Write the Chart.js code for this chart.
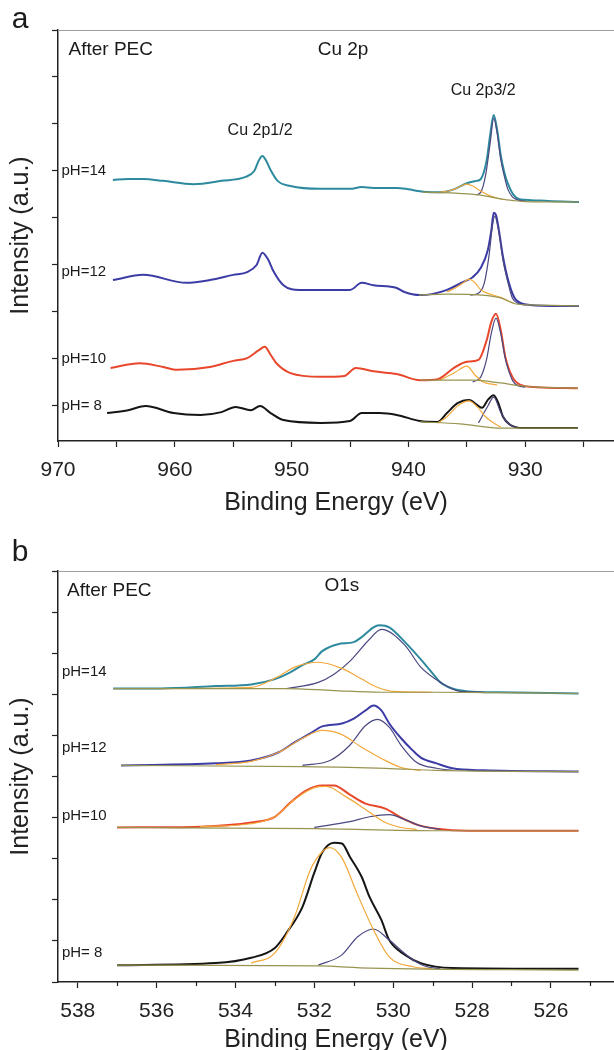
<!DOCTYPE html>
<html>
<head>
<meta charset="utf-8">
<script src="https://cdn.jsdelivr.net/npm/chart.js@4.4.0/dist/chart.umd.min.js"></script>
<style>
  html, body { margin: 0; padding: 0; background: #fff; overflow: hidden; }
  #wrap { position: relative; width: 614px; height: 1050px; overflow: hidden; }
  .panel { position: absolute; left: 0; width: 614px; }
  #cuBox { top: 0; height: 525px; }
  #oBox { top: 525px; height: 540px; }
</style>
</head>
<body>
<div id="wrap">
  <div class="panel" id="cuBox"><canvas id="cuChart"></canvas></div>
  <div class="panel" id="oBox"><canvas id="oChart"></canvas></div>
</div>
<script>
// ---- Cu 2p spectra, [binding energy (eV), offset intensity (a.u.)] ----
const cu14Spectrum = [[965.3,4.81],[964,4.83],[962.7,4.83],[961,4.79],[958.4,4.72],[956,4.79],[954,4.87],[953.2,5.0],[952.8,5.23],[952.5,5.32],[952.2,5.23],[951.8,5.02],[951.2,4.79],[950.1,4.68],[947.5,4.62],[945,4.62],[944,4.66],[943,4.64],[941,4.64],[940,4.61],[939,4.57],[938,4.55],[937.3,4.55],[936,4.62],[935,4.74],[934.2,4.79],[933.8,4.83],[933.3,5.23],[933.0,5.77],[932.7,6.19],[932.4,5.87],[932.1,5.34],[931.8,4.98],[931.5,4.74],[931.0,4.49],[930.5,4.40],[929.5,4.38],[928,4.36],[925.4,4.34]];
const cu14Sat = [[937.3,4.55],[936.5,4.58],[936,4.62],[935.5,4.68],[935,4.72],[934.5,4.68],[934,4.60],[933.5,4.53],[933,4.47],[932.5,4.43],[932,4.40]];
const cu14Main = [[934.2,4.49],[933.8,4.55],[933.4,4.9],[933.0,5.6],[932.7,6.12],[932.4,5.8],[932.1,5.25],[931.8,4.9],[931.5,4.62],[931.1,4.45],[930.6,4.38],[930,4.36]];
const cu14Base = [[938.8,4.55],[936,4.53],[934,4.49],[933,4.45],[932,4.40],[931,4.37],[930,4.35],[925.4,4.34]];

const cu12Spectrum = [[965.3,2.68],[962.7,2.79],[959,2.62],[957,2.68],[955,2.79],[953.8,2.85],[953.0,3.0],[952.5,3.26],[952.0,3.11],[951.6,2.89],[950.7,2.57],[949.3,2.47],[945,2.47],[944,2.62],[943,2.57],[941,2.51],[940.4,2.43],[939,2.36],[938,2.38],[936.7,2.47],[935.3,2.64],[934.5,2.74],[933.8,2.94],[933.2,3.32],[932.9,3.74],[932.7,4.11],[932.5,4.06],[932.3,3.81],[931.9,3.17],[931.4,2.62],[930.8,2.26],[929.6,2.15],[927,2.13],[925.4,2.13]];
const cu12Sat = [[936.7,2.43],[936,2.51],[935.3,2.62],[934.8,2.70],[934.3,2.62],[933.8,2.47],[933,2.38],[932.1,2.31],[931.5,2.24],[931,2.19]];
const cu12Main = [[934.7,2.36],[934,2.40],[933.5,2.62],[933.1,3.2],[932.8,3.85],[932.6,4.04],[932.3,3.75],[931.9,3.1],[931.4,2.55],[931.1,2.30],[930.6,2.18],[930,2.15]];
const cu12Base = [[939.1,2.36],[936.7,2.38],[933.8,2.36],[932.1,2.30],[930.8,2.17],[929.6,2.15],[925.4,2.13]];

const cu10Spectrum = [[965.5,0.81],[963,0.91],[961,0.83],[959.8,0.77],[957,0.83],[955,0.96],[953.8,1.02],[952.8,1.19],[952.3,1.26],[951.8,1.09],[951.3,0.91],[950.1,0.70],[947.5,0.62],[945.5,0.64],[944.5,0.81],[943,0.74],[941,0.68],[939,0.55],[937.5,0.57],[936.1,0.81],[935,0.94],[934,0.98],[933.3,1.40],[932.9,1.79],[932.5,1.96],[932.1,1.62],[931.7,1.04],[931.1,0.62],[930.4,0.45],[929,0.40],[925.5,0.38]];
const cu10Sat = [[937.3,0.55],[936.1,0.70],[935,0.85],[934.3,0.66],[933.6,0.51],[933,0.47],[932.4,0.45]];
const cu10Main = [[934.5,0.51],[933.8,0.62],[933.3,1.0],[932.9,1.55],[932.5,1.87],[932.1,1.55],[931.7,1.0],[931.1,0.55],[930.6,0.43],[930,0.40]];
const cu10Base = [[939,0.55],[936,0.55],[934.5,0.55],[932.1,0.49],[930.4,0.43],[929,0.40],[925.5,0.38]];

const cu8Spectrum = [[965.8,-0.15],[964,-0.09],[962.5,0],[960.1,-0.15],[957.8,-0.19],[956,-0.13],[954.8,-0.02],[953.5,-0.09],[952.7,0],[951.8,-0.15],[950.7,-0.30],[947.5,-0.36],[945,-0.32],[944,-0.15],[942.5,-0.15],[941,-0.19],[939,-0.32],[937.5,-0.34],[936.7,-0.15],[935.8,0.06],[934.8,0.13],[934.1,0.02],[933.7,-0.04],[933.2,0.13],[932.7,0.23],[932.3,0.06],[931.9,-0.23],[931.3,-0.40],[930.2,-0.47],[925.5,-0.47]];
const cu8Sat = [[937.5,-0.36],[936.7,-0.23],[935.8,0.0],[934.8,0.11],[934.1,-0.02],[933.4,-0.23],[932.7,-0.36],[932.1,-0.45]];
const cu8Main = [[934,-0.36],[933.2,0.0],[932.7,0.19],[932.1,-0.13],[931.5,-0.36],[930.8,-0.47]];
const cu8Base = [[939,-0.34],[935.6,-0.38],[932,-0.47],[925.5,-0.47]];

// ---- O 1s spectra ----
const o14Spectrum = [[537.1,7.14],[535.9,7.14],[534.5,7.20],[533.6,7.24],[533.0,7.37],[532.6,7.54],[532.3,7.71],[532.0,7.85],[531.8,8.05],[531.4,8.22],[531.0,8.27],[530.8,8.39],[530.5,8.63],[530.35,8.68],[530.1,8.63],[529.7,8.27],[529.3,7.85],[529.0,7.51],[528.8,7.29],[528.5,7.14],[528.1,7.07],[527.3,7.05],[525.3,7.02]];
const o14Hydroxyl = [[535.9,7.14],[533.6,7.17],[532.9,7.44],[532.5,7.66],[531.9,7.78],[531.3,7.63],[530.8,7.37],[530.4,7.17],[530,7.07],[529,7.05]];
const o14Lattice = [[532.7,7.14],[531.9,7.29],[531.5,7.49],[531.1,7.80],[530.6,8.34],[530.3,8.58],[529.7,8.19],[529.3,7.66],[528.8,7.29],[528.3,7.07],[527.7,7.05]];
const o14Base = [[537.1,7.14],[532.7,7.14],[531.5,7.09],[530.3,7.05],[529,7.05],[525.3,7.02]];

const o12Spectrum = [[536.9,5.27],[534.5,5.32],[533.6,5.39],[532.9,5.59],[532.5,5.83],[532.1,6.05],[531.8,6.22],[531.3,6.29],[531.0,6.41],[530.7,6.61],[530.5,6.73],[530.3,6.61],[530.1,6.29],[529.8,5.93],[529.5,5.63],[529.3,5.46],[528.9,5.32],[528.5,5.20],[527.7,5.15],[525.3,5.12]];
const o12Hydroxyl = [[534.5,5.29],[533.6,5.37],[532.9,5.59],[532.3,5.93],[531.8,6.12],[531.3,6.02],[530.8,5.71],[530.3,5.44],[529.8,5.22],[529.3,5.15]];
const o12Lattice = [[532.3,5.27],[531.6,5.39],[531.1,5.76],[530.7,6.24],[530.4,6.39],[530.1,6.20],[529.8,5.76],[529.4,5.34],[528.9,5.20],[528.5,5.15]];
const o12Base = [[536.9,5.27],[532.3,5.24],[530.2,5.20],[528.9,5.15],[525.3,5.12]];

const o10Spectrum = [[537.0,3.76],[534.9,3.78],[533.6,3.88],[533.0,4.02],[532.6,4.37],[532.2,4.66],[531.8,4.78],[531.5,4.78],[531.1,4.56],[530.7,4.34],[530.2,4.22],[529.8,4.00],[529.4,3.83],[528.9,3.73],[528.1,3.68],[525.3,3.68]];
const o10Hydroxyl = [[534.9,3.78],[533.6,3.85],[533.0,4.02],[532.5,4.44],[532.0,4.73],[531.7,4.76],[531.2,4.51],[530.7,4.20],[530.2,3.88],[529.8,3.76],[529.4,3.71]];
const o10Lattice = [[532.0,3.76],[531.1,3.90],[530.6,4.02],[530.1,4.07],[529.7,3.95],[529.3,3.80],[528.8,3.71]];
const o10Base = [[537,3.76],[532,3.73],[528.9,3.68],[525.3,3.68]];

const o8Spectrum = [[537.0,0.41],[534.5,0.46],[533.6,0.59],[533.0,0.83],[532.7,1.20],[532.3,1.83],[532.0,2.66],[531.8,3.15],[531.5,3.39],[531.3,3.37],[531.1,3.05],[530.8,2.56],[530.6,2.07],[530.3,1.51],[530.1,1.02],[529.7,0.66],[529.3,0.46],[528.5,0.34],[525.3,0.32]];
const o8Hydroxyl = [[533.6,0.46],[533.0,0.71],[532.5,1.59],[532.1,2.73],[531.8,3.17],[531.6,3.27],[531.3,3.02],[530.9,2.12],[530.5,1.27],[530.1,0.61],[529.5,0.37],[529.0,0.32]];
const o8Lattice = [[531.9,0.41],[531.3,0.66],[530.9,1.10],[530.5,1.29],[530.1,1.02],[529.6,0.61],[529.2,0.39],[528.8,0.32]];
const o8Base = [[537,0.41],[531.9,0.39],[530.6,0.34],[525.3,0.29]];

const phLabels = ['pH=14', 'pH=12', 'pH=10', 'pH= 8'];
const phColors = ['#2d8a9e', '#3c3ca6', '#e8472c', '#151515'];
const cuLabelY = [5, 2.85, 1, 0];
const oLabelY = [7.54, 5.7, 4.05, 0.71];

const FONT = "'Liberation Sans', Arial, sans-serif";
Chart.defaults.font.family = FONT;
Chart.defaults.color = '#222';

const toXY = arr => arr.map(p => ({ x: p[0], y: p[1] }));

function buildSets(groups) {
    const sets = [];
    groups.forEach((g, i) => {
        sets.push({ data: toXY(g[0]), borderColor: phColors[i], borderWidth: 2, order: 2 });
        sets.push({ data: toXY(g[3]), borderColor: '#98944f', borderWidth: 1.2, order: 1 });
        sets.push({ data: toXY(g[1]), borderColor: '#f2a83a', borderWidth: 1.2, order: 1 });
        sets.push({ data: toXY(g[2]), borderColor: '#4a4880', borderWidth: 1.2, order: 1 });
    });
    sets.forEach(s => {
        s.pointRadius = 0;
        s.fill = false;
        s.cubicInterpolationMode = 'monotone';
    });
    return sets;
}

// ticks at every multiple of step inside the scale range
function stepTicks(step) {
    return s => {
        const out = [];
        for (let k = Math.ceil(s.min / step - 1e-9); k * step <= s.max + 1e-9; k++) out.push({ value: k * step });
        s.ticks = out;
    };
}

// panel texts, top frame line, short minor ticks and the panel letter
const panelText = {
    id: 'panelText',
    afterDraw(chart, args, opts) {
        const { ctx, chartArea, scales } = chart;
        ctx.save();
        ctx.strokeStyle = '#a0a0a0';
        ctx.lineWidth = 1;
        ctx.beginPath();
        ctx.moveTo(chartArea.left, chartArea.top + 0.5);
        ctx.lineTo(chart.width, chartArea.top + 0.5);
        ctx.stroke();
        if (opts.minorEvery) {
            ctx.strokeStyle = '#222';
            ctx.lineWidth = 1.2;
            scales.x.ticks.forEach(t => {
                if (Math.round(t.value) % opts.minorEvery === 0) return;
                const px = Math.round(scales.x.getPixelForValue(t.value)) + 0.5;
                ctx.beginPath();
                ctx.moveTo(px, chartArea.bottom);
                ctx.lineTo(px, chartArea.bottom + 4);
                ctx.stroke();
            });
        }
        ctx.fillStyle = '#1a1a1a';
        ctx.textBaseline = 'middle';
        (opts.items || []).forEach(t => {
            ctx.font = t.size + 'px ' + FONT;
            ctx.textAlign = t.align || 'left';
            ctx.fillText(t.text, scales.x.getPixelForValue(t.x), scales.y.getPixelForValue(t.y));
        });
        ctx.font = opts.letterSize + 'px ' + FONT;
        ctx.textAlign = 'center';
        ctx.fillText(opts.letter, opts.letterX, opts.letterY);
        ctx.restore();
    }
};

function makeOptions(cfg) {
    const minor = cfg.text.minorEvery;
    return {
        responsive: true,
        maintainAspectRatio: false,
        animation: false,
        layout: { padding: { top: cfg.top, left: 0, right: 0, bottom: 0 } },
        plugins: {
            legend: { display: false },
            tooltip: { enabled: false },
            panelText: cfg.text
        },
        scales: {
            x: {
                type: 'linear',
                reverse: true,
                min: cfg.xMin,
                max: cfg.xMax,
                afterBuildTicks: stepTicks(cfg.xStep),
                afterFit: s => { s.height = cfg.xHeight; },
                ticks: {
                    autoSkip: false,
                    maxRotation: 0,
                    padding: 11,
                    color: '#222',
                    font: { size: 21 },
                    callback: v => (Math.round(v) % cfg.xLabelEvery === 0 ? v : '')
                },
                grid: {
                    drawOnChartArea: false, drawTicks: true, tickLength: 6, tickWidth: 1.2,
                    tickColor: c => (minor && c.tick && Math.round(c.tick.value) % minor !== 0 ? 'rgba(0,0,0,0)' : '#222')
                },
                border: { color: '#222', width: 1.5 },
                title: { display: true, text: 'Binding Energy (eV)', font: { size: 25 }, color: '#222', padding: { top: 0, bottom: cfg.titlePad } }
            },
            y: {
                min: cfg.yMin,
                max: cfg.yMax,
                afterBuildTicks: stepTicks(1),
                afterFit: s => { s.width = 58; },
                ticks: { display: false },
                grid: { drawOnChartArea: false, drawTicks: true, tickLength: 6, tickColor: '#222', tickWidth: 1.2 },
                border: { color: '#222', width: 1.5 },
                title: { display: true, text: 'Intensity (a.u.)', font: { size: 25 }, color: '#222', padding: { top: 6, bottom: 0 } }
            }
        }
    };
}

// Cu 2p panel
const cuText = [
    { text: 'After PEC', x: 969.1, y: 7.57, size: 19 },
    { text: 'Cu 2p', x: 945.6, y: 7.57, size: 19, align: 'center' },
    { text: 'Cu 2p3/2', x: 933.6, y: 6.72, size: 16, align: 'center' },
    { text: 'Cu 2p1/2', x: 952.7, y: 5.87, size: 16, align: 'center' }
].concat(phLabels.map((t, i) => ({ text: t, x: 969.7, y: cuLabelY[i], size: 15 })));

new Chart(document.getElementById('cuChart'), {
    type: 'line',
    data: { datasets: buildSets([
        [cu14Spectrum, cu14Sat, cu14Main, cu14Base],
        [cu12Spectrum, cu12Sat, cu12Main, cu12Base],
        [cu10Spectrum, cu10Sat, cu10Main, cu10Base],
        [cu8Spectrum, cu8Sat, cu8Main, cu8Base]
    ]) },
    options: makeOptions({
        top: 30, xMin: 922.4, xMax: 970, xStep: 5, xLabelEvery: 10, xHeight: 84, titlePad: 7,
        yMin: -0.745, yMax: 8,
        text: { items: cuText, letter: 'a', letterX: 20, letterY: 20, letterSize: 30 }
    }),
    plugins: [panelText]
});

// O 1s panel
const oText = [
    { text: 'After PEC', x: 538.27, y: 9.51, size: 19 },
    { text: 'O1s', x: 531.3, y: 9.63, size: 19, align: 'center' }
].concat(phLabels.map((t, i) => ({ text: t, x: 538.4, y: oLabelY[i], size: 15 })));

new Chart(document.getElementById('oChart'), {
    type: 'line',
    data: { datasets: buildSets([
        [o14Spectrum, o14Hydroxyl, o14Lattice, o14Base],
        [o12Spectrum, o12Hydroxyl, o12Lattice, o12Base],
        [o10Spectrum, o10Hydroxyl, o10Lattice, o10Base],
        [o8Spectrum, o8Hydroxyl, o8Lattice, o8Base]
    ]) },
    options: makeOptions({
        top: 46, xMin: 524.4, xMax: 538.5, xStep: 1, xLabelEvery: 2, xHeight: 83, titlePad: 10,
        yMin: 0, yMax: 10,
        text: { items: oText, letter: 'b', letterX: 20, letterY: 28, letterSize: 30, minorEvery: 2 }
    }),
    plugins: [panelText]
});
</script>
</body>
</html>
